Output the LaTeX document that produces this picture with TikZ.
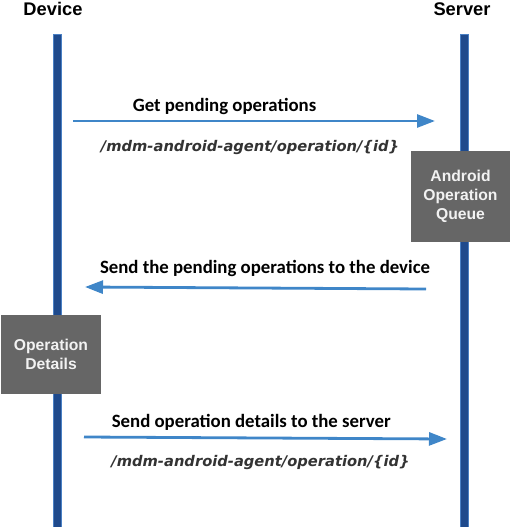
\documentclass[tikz,border=0pt]{standalone}
\usepackage{fontspec}
\usepackage{tikz}
\usetikzlibrary{arrows.meta}
\newfontfamily\arialfont{Liberation Sans}
\newfontfamily\calibrifont{Carlito}
\newfontfamily\verdanafont{DejaVu Sans}
\definecolor{lineablue}{HTML}{1F4A8C}
\definecolor{bordeblue}{HTML}{4A80C4}
\definecolor{flechablue}{HTML}{3F86C8}
\definecolor{cajagris}{HTML}{666666}
\definecolor{rutagris}{HTML}{333333}

\begin{document}
\begin{tikzpicture}[x=1pt, y=-1pt,
    titulo/.style={font=\arialfont\bfseries\fontsize{18.3}{20}\selectfont, anchor=base, inner sep=0pt},
    mensaje/.style={font=\calibrifont\bfseries\fontsize{18.8}{22}\selectfont, anchor=base, inner sep=0pt},
    ruta/.style={font=\verdanafont\bfseries\itshape\fontsize{14.7}{17}\selectfont, text=rutagris, anchor=base, inner sep=0pt},
    caja/.style={fill=cajagris, text=white!95!black, align=center, inner sep=0pt, font=\arialfont\bfseries\fontsize{15.7}{19}\selectfont},
    vida/.style={fill=lineablue, draw=bordeblue, line width=0.8pt, minimum width=8.5pt, inner sep=0pt},
    flecha/.style={-{Triangle[length=18pt,width=13pt]}, line width=2.8pt, flechablue}]
              \useasboundingbox (0,0) rectangle (510,527);

              % Nodos
              \node[titulo] (device) at (53,16) {Device};
              \node[titulo] (server) at (462,16) {Server};
              \node[vida, minimum height=493pt] (vdevice) at (57.5,280.5) {};
              \node[vida, minimum height=493pt] (vserver) at (464.5,280.5) {};
              \node[caja, minimum width=99pt, minimum height=91pt] (queue) at (460.5,196.5) {Android\\Operation\\Queue};
              \node[caja, minimum width=100pt, minimum height=79pt] (details) at (51,354.5) {Operation\\Details};

              % Extremos
              \coordinate (a1) at (73,121);
              \coordinate (b1) at (435,121);
              \coordinate (a2) at (426,289);
              \coordinate (b2) at (85,287);
              \coordinate (a3) at (84,437);
              \coordinate (b3) at (447,439);

              % Mensajes
              \node[mensaje] (get) at (224.5,111) {Get pending operations};
              \node[ruta] (ruta1) at (250,151) {/mdm-android-agent/operation/\{id\}};
              \node[mensaje] (send) at (265,273) {Send the pending operations to the device};
              \node[mensaje] (detalle) at (251.3,427) {Send operation details to the server};
              \node[ruta] (ruta2) at (260.5,466) {/mdm-android-agent/operation/\{id\}};

              % Aristas
              \draw[flecha] (a1) -- (b1);
              \draw[flecha] (a2) -- (b2);
              \draw[flecha] (a3) -- (b3);
            \end{tikzpicture}
\end{document}
